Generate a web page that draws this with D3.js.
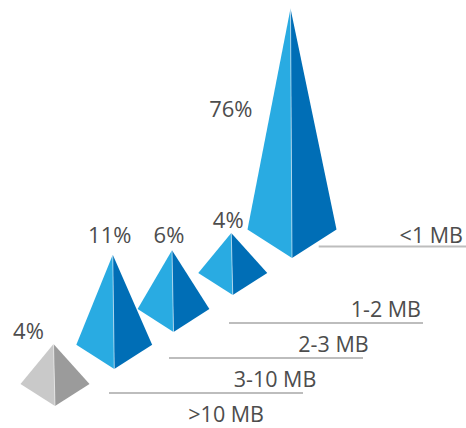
<!DOCTYPE html>
<html>
<head>
<meta charset="utf-8">
<script src="https://cdn.jsdelivr.net/npm/d3@7"></script>
<style>
  html, body { margin: 0; padding: 0; background: #fff; }
  svg { display: block; }
  text { font-family: "Open Sans", "Noto Sans", sans-serif; }
</style>
</head>
<body>
<svg id="chart" width="466" height="428"></svg>
<script>
// ---- data ----
const categories = ["<1 MB", "1-2 MB", "2-3 MB", "3-10 MB", ">10 MB"];
const shares = [76, 4, 6, 11, 4];
const shareLabels = ["76%", "4%", "6%", "11%", "4%"];

// ---- setup ----
const W = 466, H = 428;
const svg = d3.select("#chart");
const textColor = "#4d4d4d";

const data = categories.map((c, i) => ({ cat: c, value: shares[i], label: shareLabels[i], i }));

// scales
const xCenter = d3.scalePoint().domain(categories).range([292, 55]);
const yBottom = d3.scalePoint().domain(categories).range([258, 406]);
const heightScale = d3.scalePow().exponent(0.21).domain([4, 76]).range([40, 221]);
const halfWidth = d3.scaleLog().domain([4, 76]).range([34.5, 44.5]);
const lightColor = d3.scaleOrdinal().domain(categories)
  .range(["#29abe2", "#29abe2", "#29abe2", "#29abe2", "#c9c9c9"]);
const darkColor = d3.scaleOrdinal().domain(categories)
  .range(["#006eb6", "#006eb6", "#006eb6", "#006eb6", "#9b9b9b"]);

// row scales for category labels (lower rows)
const rowBaseline = d3.scalePoint().domain(categories.slice(1)).range([317, 422]);
const rowTextEnd = d3.scalePoint().domain(categories.slice(1)).range([421, 264]);
const lineEnd = d3.scalePoint().domain(categories).range([483, 243]);
const lineLength = 194;

// geometry
data.forEach(d => {
  d.cx = xCenter(d.cat);
  d.by = yBottom(d.cat);
  d.hw = halfWidth(d.value);
  d.depth = d.hw * 0.64;
  d.cy = d.by - d.depth;
  d.h = heightScale(d.value);
  d.ax = d.cx - 1.5;
  d.ay = d.cy - d.h;
});

// category rows
data.forEach(d => {
  if (d.i === 0) {
    d.baseline = d.cy + 13;
    d.textEnd = W - 3;
    d.lineY = d.baseline + 4;
  } else {
    d.baseline = rowBaseline(d.cat);
    d.textEnd = rowTextEnd(d.cat);
    d.lineY = d.baseline + 6;
  }
  d.lineX2 = lineEnd(d.cat);
  d.lineX1 = d.lineX2 - lineLength;
  if (d.i === 0) d.lineX1 = Math.max(d.lineX1, d.cx + d.hw * 0.6);
});

// lines (behind pyramids); rows whose rule falls below the frame are not drawn
svg.append("g").selectAll("line").data(data.filter(d => d.lineY < H - 2)).join("line")
  .attr("x1", d => d.lineX1).attr("x2", d => d.lineX2)
  .attr("y1", d => d.lineY).attr("y2", d => d.lineY)
  .attr("stroke", "#bdbdbd").attr("stroke-width", 2);

// category labels
svg.append("g").selectAll("text").data(data).join("text")
  .attr("x", d => d.textEnd).attr("y", d => d.baseline)
  .attr("text-anchor", "end")
  .attr("font-size", 21.5)
  .attr("fill", textColor)
  .text(d => d.cat);

// pyramids
const line = d3.line();
const pyr = svg.append("g").selectAll("g").data(data).join("g");
pyr.append("path")
  .attr("d", d => line([[d.ax, d.ay], [d.cx - d.hw, d.cy], [d.cx, d.by]]) + "Z")
  .attr("fill", d => lightColor(d.cat));
pyr.append("path")
  .attr("d", d => line([[d.ax, d.ay], [d.cx, d.by], [d.cx + d.hw, d.cy]]) + "Z")
  .attr("fill", d => darkColor(d.cat));
pyr.append("path")
  .attr("d", d => line([[d.ax, d.ay], [d.cx, d.by]]))
  .attr("stroke", "#fff").attr("stroke-opacity", 0.55).attr("stroke-width", 1)
  .attr("fill", "none");

// percentage labels
svg.append("g").selectAll("text").data(data).join("text")
  .attr("x", d => {
    if (d.h > 150) return d.ax - 38;
    return d.ax - 3 - (d.i === data.length - 1 ? 22 : 0);
  })
  .attr("y", d => d.h > 150 ? d.ay + d.h * 0.49 : d.ay - d.h * 0.13)
  .attr("text-anchor", d => d.h > 150 ? "end" : "middle")
  .attr("font-size", 22)
  .attr("fill", textColor)
  .text(d => d.label);
</script>
</body>
</html>
